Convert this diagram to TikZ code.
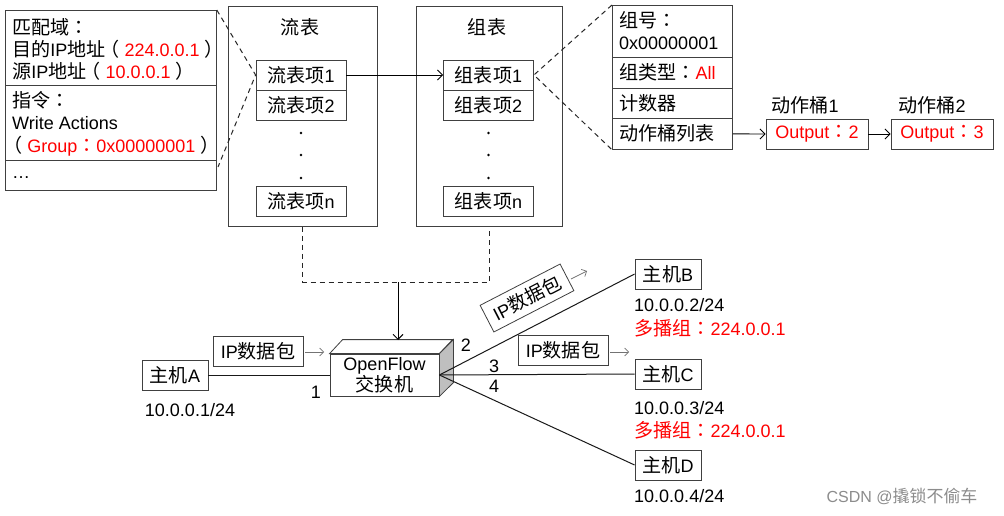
\documentclass[tikz,border=0pt]{standalone}
\usepackage{fontspec}
\setmainfont{Liberation Sans}
\newfontfamily\cjk[Scale=1.06]{Noto Sans CJK SC}
\newfontfamily\cjktc[Scale=1.06]{Noto Sans CJK TC}
\newcommand\zh[1]{{\cjk #1}}
\newcommand\zc{{\cjktc ：}}
\newcommand\lp{\kern-5pt{\cjk （}\kern5pt}
\newcommand\rp{\kern5pt{\cjk ）}\kern-5pt}
\usetikzlibrary{arrows.meta}
\definecolor{hlred}{RGB}{255,0,0}
\begin{document}
\begin{tikzpicture}[x=1pt,y=-1pt,
  every node/.style={font=\fontsize{18}{21}\selectfont, inner sep=0pt},
  box/.style={draw=black!75, line width=0.8pt, fill=white},
  entry/.style={box, minimum width=90, minimum height=30},
  host/.style={box, minimum width=66, minimum height=30},
  pkt/.style={box, minimum width=90, minimum height=30},
  lbl/.style={anchor=west},
  dashline/.style={draw=black!85, line width=1pt, dash pattern=on 5pt off 4pt},
  arr/.style={-{Straight Barb[length=5pt,width=10pt]}, line width=0.9pt},
  garr/.style={-{Straight Barb[length=4pt,width=8pt]}, draw=black!55, line width=0.7pt},
  link/.style={line width=1pt, draw=black!90}
]
\useasboundingbox[fill=white] (0,0) rectangle (1004,516);

% match / instruction box
\node[box, anchor=north west, minimum width=211, minimum height=75] (mbox) at (5,10) {};
\node[box, anchor=north west, minimum width=211, minimum height=75] (ibox) at (5,85) {};
\node[box, anchor=north west, minimum width=211, minimum height=30] (ebox) at (5,160) {};
\node[lbl] (m1) at (12,27) {\zh{匹配域}\zc};
\node[lbl] (m2) at (12,49) {\zh{目的}IP\zh{地址}\lp\textcolor{hlred}{224.0.0.1}\rp};
\node[lbl] (m3) at (12,71) {\zh{源}IP\zh{地址}\lp\textcolor{hlred}{10.0.0.1}\rp};
\node[lbl] (i1) at (12,100) {\zh{指令}\zc};
\node[lbl] (i2) at (12,123) {Write Actions};
\node[lbl] (i3) at (8,146) {\lp\textcolor{hlred}{Group\zc 0x00000001}\rp};
\node[lbl] (e1) at (12,178) {…};

% flow table
\node[box, anchor=north west, minimum width=149, minimum height=220] (ft) at (228,6) {};
\node (ftt) at (300,27) {\zh{流表}};
\node[entry] (f1) at (301,75) {\zh{流表项}1};
\node[entry] (f2) at (301,105) {\zh{流表项}2};
\node[entry] (fn) at (301,201) {\zh{流表项}n};
\fill (301,133) circle (1.3) (301,155) circle (1.3) (301,178) circle (1.3);

% group table
\node[box, anchor=north west, minimum width=146, minimum height=220] (gt) at (416,6) {};
\node (gtt) at (487,27) {\zh{组表}};
\node[entry] (g1) at (488.5,75) {\zh{组表项}1};
\node[entry] (g2) at (488.5,105) {\zh{组表项}2};
\node[entry] (gn) at (488.5,201) {\zh{组表项}n};
\fill (488.5,133) circle (1.3) (488.5,155) circle (1.3) (488.5,178) circle (1.3);

% group entry
\node[box, anchor=north west, minimum width=120, minimum height=52] (ge1) at (612,5) {};
\node[box, anchor=north west, minimum width=120, minimum height=31] (ge2) at (612,57) {};
\node[box, anchor=north west, minimum width=120, minimum height=30] (ge3) at (612,88) {};
\node[box, anchor=north west, minimum width=120, minimum height=31] (ge4) at (612,118) {};
\node[lbl] (t1) at (619,20) {\zh{组号}\zc};
\node[lbl] (t2) at (619,43) {0x00000001};
\node[lbl] (t3) at (619,72) {\zh{组类型}\zc\textcolor{hlred}{All}};
\node[lbl] (t4) at (619,103) {\zh{计数器}};
\node[lbl] (t5) at (619,133) {\zh{动作桶列表}};

% action buckets
\node[box, minimum width=102, minimum height=30, text=hlred] (o1) at (817,134) {Output\zc 2};
\node[box, minimum width=102, minimum height=30, text=hlred] (o2) at (942,134) {Output\zc 3};
\node (o1l) at (805,105) {\zh{动作桶}1};
\node (o2l) at (932,105) {\zh{动作桶}2};
\draw[arr] (ge4.east) -- (o1.west);
\draw[arr] (o1.east) -- (o2.west);

% connectors top
\draw[arr] (f1.east) -- (g1.west);
\coordinate (dl) at (218,167);
\draw[dashline] (mbox.north east) -- (f1.west) -- (dl);
\draw[dashline] (ge1.north west) -- (g1.east) -- (ge4.south west);

% switch
\node[box, minimum width=109, minimum height=42, align=center] (sw) at (384.5,375) {OpenFlow\\\zh{交换机}};
\draw[box] (sw.north west) -- ++(13,-14) -- ++(110,0) -- (sw.north east) -- cycle;
\draw[box, fill=black!25] (sw.north east) -- ++(14,-14) -- ++(0,43) -- (sw.south east) -- cycle;
\coordinate (swtop) at (398,340);
\coordinate (mid) at (398,282);
\draw[dashline] (ft.south) -- (ft.south |- mid) -| (gt.south);
\draw[arr] (mid) -- (swtop);

% hosts
\node[host] (hA) at (175,375) {\zh{主机}A};
\node[host] (hB) at (668,274) {\zh{主机}B};
\node[host] (hC) at (668,374) {\zh{主机}C};
\node[host] (hD) at (668,465) {\zh{主机}D};
\draw[link] (hA.east) -- (sw.west);
\draw[link] (sw.east) -- (hB.west);
\draw[link] (sw.east) -- (hC.west);
\draw[link] (sw.east) -- (hD.west);
\node (n1) at (316,392) {1};
\node (n2) at (466,345) {2};
\node (n3) at (494,366) {3};
\node (n4) at (494,386) {4};

\node (aA) at (190,410) {10.0.0.1/24};
\node[lbl] (aB1) at (634,305) {10.0.0.2/24};
\node[lbl, text=hlred] (aB2) at (634,328) {\zh{多播组}\zc 224.0.0.1};
\node[lbl] (aC1) at (634,408) {10.0.0.3/24};
\node[lbl, text=hlred] (aC2) at (634,430) {\zh{多播组}\zc 224.0.0.1};
\node[lbl] (aD1) at (634,496) {10.0.0.4/24};

% packets
\node[pkt] (pA) at (258,351) {IP\zh{数据包}};
\coordinate (pAs) at (305,352); \coordinate (pAe) at (324,352);
\draw[garr] (pAs) -- (pAe);
\node[pkt, rotate=27.3] (pB) at (527,298) {IP\zh{数据包}};
\coordinate (pBs) at (571,279); \coordinate (pBe) at (587,271);
\draw[garr] (pBs) -- (pBe);
\node[pkt] (pC) at (563,350) {IP\zh{数据包}};
\coordinate (pCs) at (610,352); \coordinate (pCe) at (629,352);
\draw[garr] (pCs) -- (pCe);

% watermark
\node[text=black!45, font=\fontsize{16}{18}\selectfont] (wm) at (902,496) {CSDN @\zh{撬锁不偷车}};
\end{tikzpicture}
\end{document}
